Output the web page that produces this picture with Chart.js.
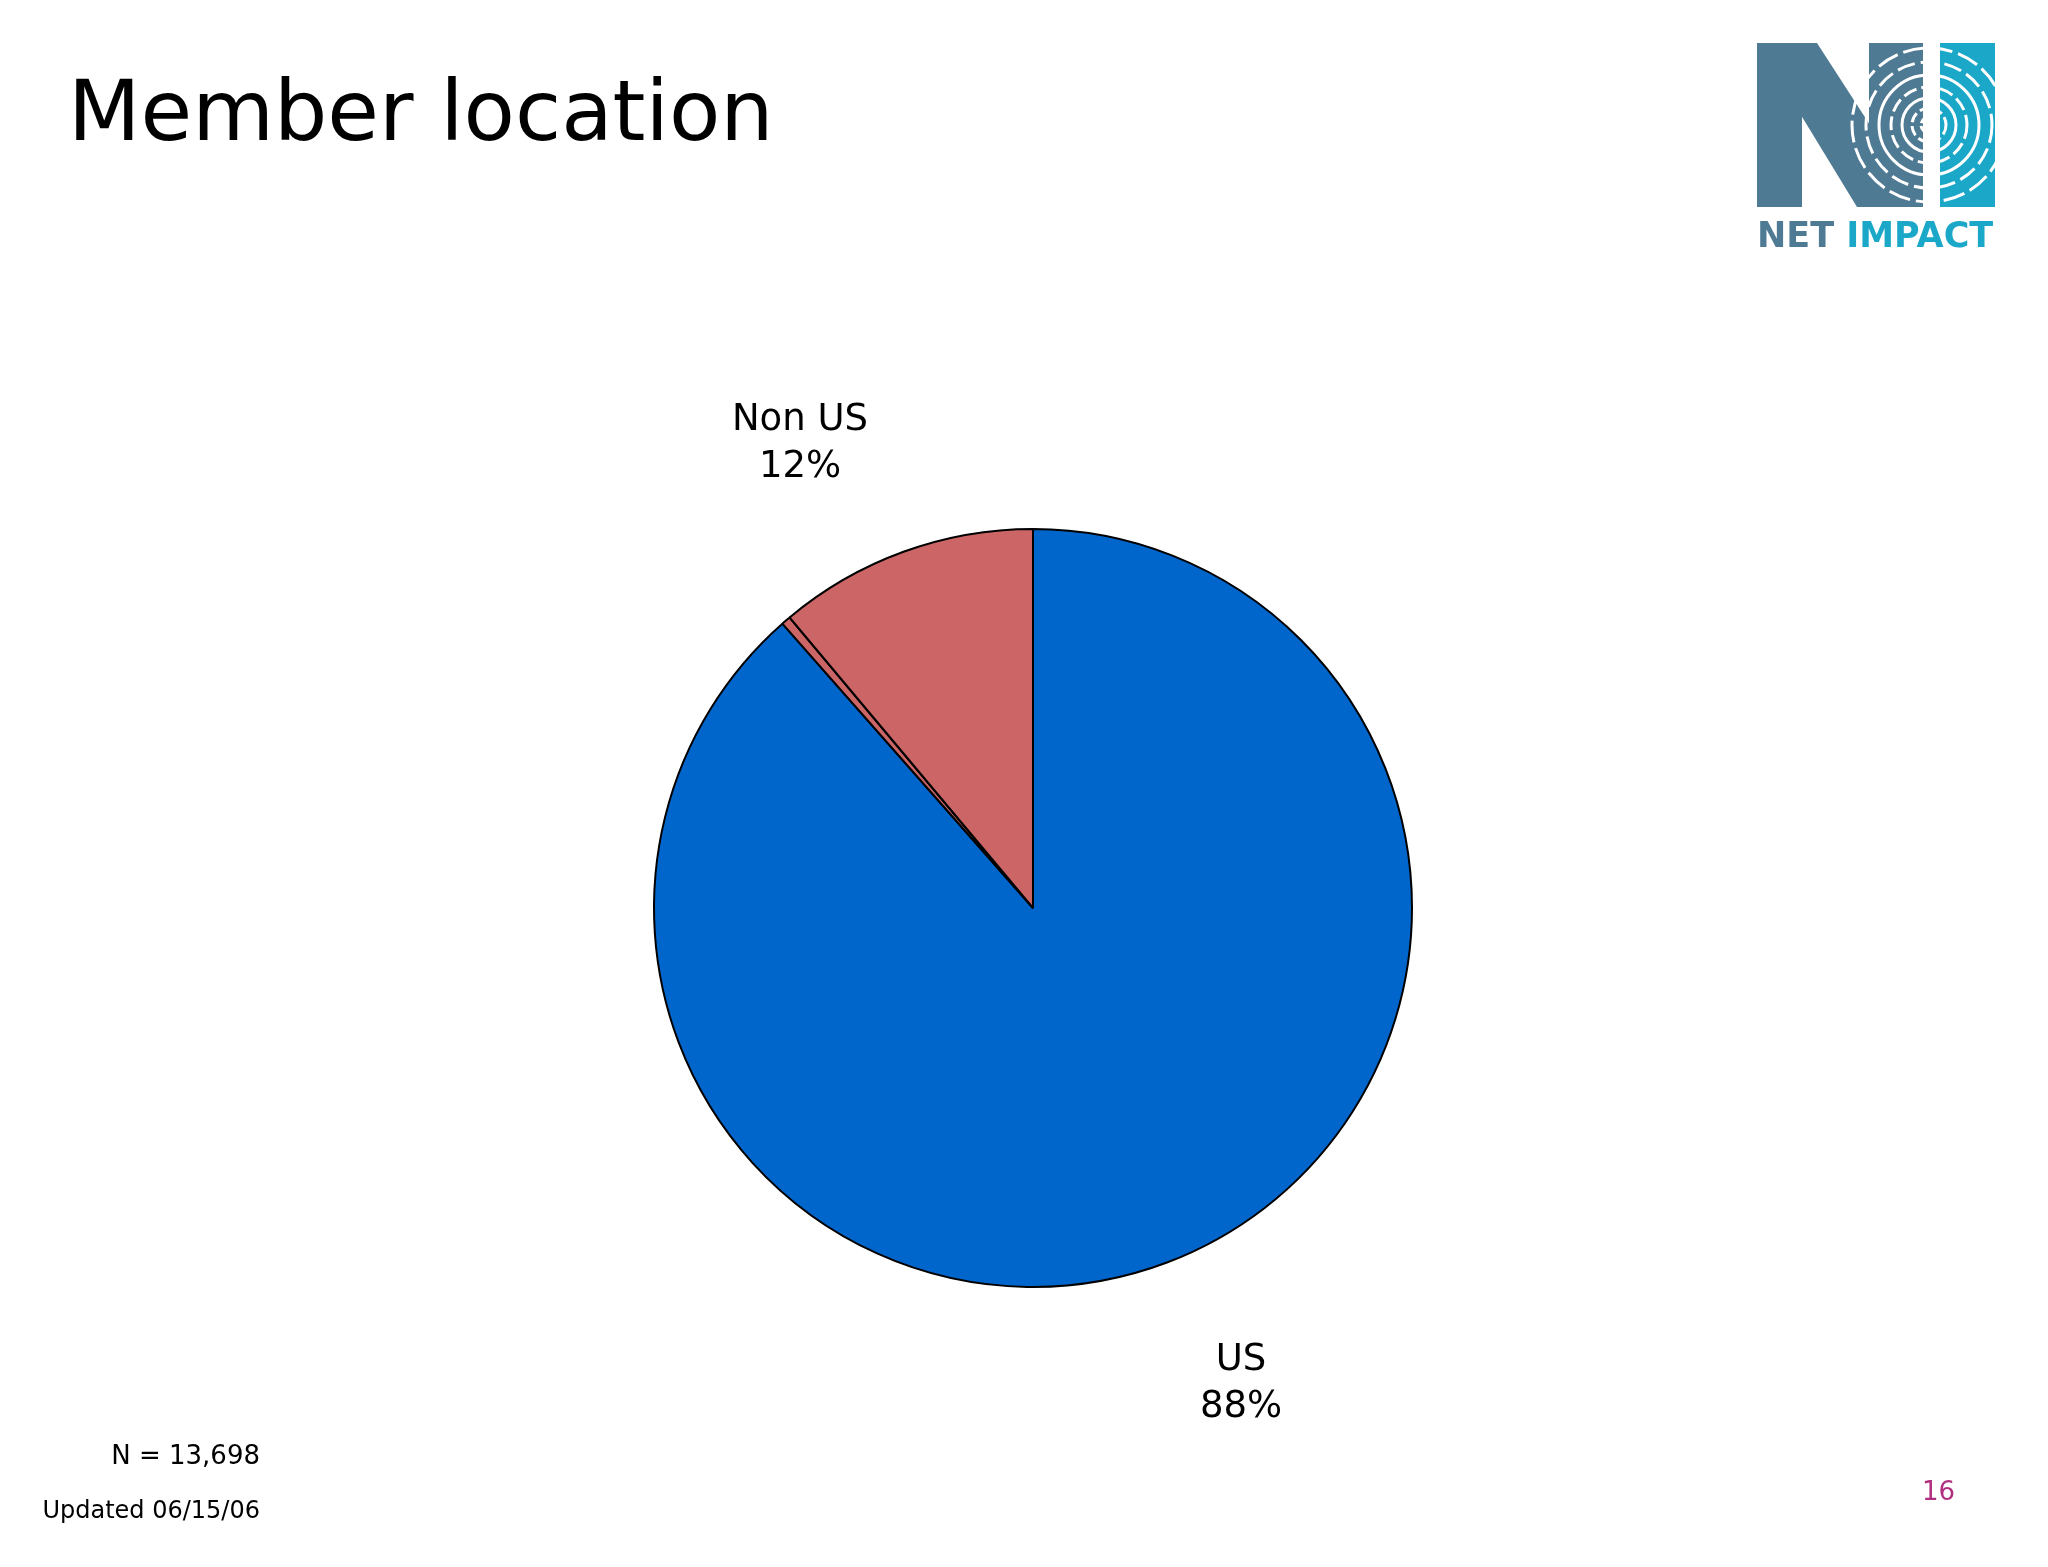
<!DOCTYPE html>
<html>
<head>
<meta charset="utf-8">
<script src="https://cdn.jsdelivr.net/npm/chart.js@4"></script>
<style>
  html, body { margin: 0; padding: 0; background: #fff; }
  body { width: 2048px; height: 1567px; position: relative; overflow: hidden; font-family: "DejaVu Sans", Verdana, sans-serif; color: #000; }
  #chart-box { position: absolute; left: 0; top: 0; width: 2048px; height: 1567px; }
  .txt { position: absolute; white-space: nowrap; }
  .title { left: 68px; top: 70px; font-size: 84px; line-height: 82px; }
  .lbl { width: 300px; text-align: center; font-size: 37px; line-height: 47px; }
  .note { font-size: 24px; line-height: 24px; text-align: right; width: 260px; left: 0; }
  .page { left: 1922px; top: 1478px; font-size: 26px; line-height: 26px; color: #b0307f; }
  .logo { position: absolute; left: 1757px; top: 43px; }
  .logo-text { position: absolute; left: 1757px; top: 218px; font-family: "DejaVu Sans", sans-serif; font-weight: bold; font-size: 35px; line-height: 34px; letter-spacing: 0px; }
</style>
</head>
<body>
<div id="chart-box"><canvas id="pie"></canvas></div>

<div class="txt title">Member location</div>
<div class="txt lbl" id="lbl-nonus" style="left:650px; top:394px;"></div>
<div class="txt lbl" id="lbl-us" style="left:1091px; top:1334px;"></div>
<div class="txt note" style="top:1442px; font-size:26px; line-height:26px;">N&nbsp;=&nbsp;13,698</div>
<div class="txt note" style="top:1498px;">Updated 06/15/06</div>
<div class="txt page">16</div>

<!-- Net Impact Logo, grob nachgebaut -->
<svg class="logo" width="240" height="166" viewBox="0 0 240 166">
  <defs>
    <clipPath id="rings-clip">
      <rect x="92" y="0" width="148" height="166"/>
    </clipPath>
  </defs>
  <rect x="0" y="0" width="45" height="164" fill="#4f7a93"/>
  <polygon points="0,0 60,0 166,164 100,164" fill="#4f7a93"/>
  <rect x="112" y="0" width="54" height="164" fill="#4f7a93"/>
  <rect x="183" y="0" width="55" height="164" fill="#1ba8c8"/>
  <g clip-path="url(#rings-clip)" fill="none" stroke="#fff" stroke-width="3">
    <circle cx="172" cy="82" r="8" stroke-dasharray="6 3"/>
    <circle cx="172" cy="82" r="17" stroke-dasharray="10 4"/>
    <circle cx="172" cy="82" r="27"/>
    <circle cx="172" cy="82" r="38" stroke-dasharray="14 5"/>
    <circle cx="172" cy="82" r="50"/>
    <circle cx="172" cy="82" r="63" stroke-dasharray="18 6"/>
    <circle cx="172" cy="82" r="77" stroke-dasharray="22 6"/>
  </g>
  <rect x="166" y="0" width="17" height="166" fill="#fff"/>
</svg>
<div class="logo-text"><span style="color:#4f7a93">NET</span> <span style="color:#1ba8c8">IMPACT</span></div>

<script>
const categories = ['US', 'Other', 'Non US'];
const shares = [88.5, 0.4, 11.1];          // Prozent, im Uhrzeigersinn ab 12 Uhr
const labelTexts = ['88%', '', '12%'];      // Beschriftung wie auf der Folie
const sliceColors = ['#0066cc', '#cc6666', '#cc6666'];

document.getElementById('lbl-us').innerHTML = categories[0] + '<br>' + labelTexts[0];
document.getElementById('lbl-nonus').innerHTML = categories[2] + '<br>' + labelTexts[2];

const ctx = document.getElementById('pie').getContext('2d');
new Chart(ctx, {
    type: 'pie',
    data: {
        labels: categories,
        datasets: [{
            data: shares,
            backgroundColor: sliceColors,
            borderColor: '#000',
            borderWidth: 2
        }]
    },
    options: {
        responsive: true,
        maintainAspectRatio: false,
        animation: false,
        layout: {
            padding: { left: 653, right: 635, top: 528, bottom: 279 }
        },
        plugins: {
            legend: { display: false },
            tooltip: { enabled: false }
        }
    }
});
</script>
</body>
</html>
